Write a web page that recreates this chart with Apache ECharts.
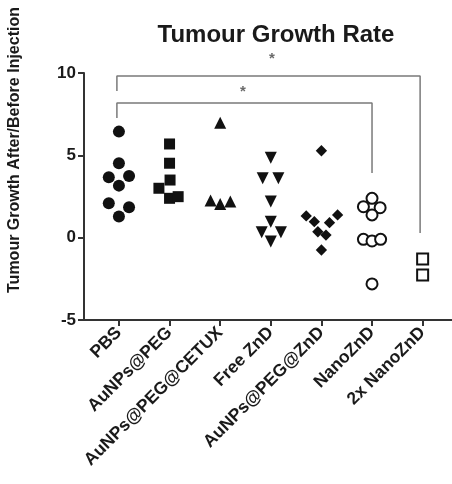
<!DOCTYPE html>
<html>
<head>
<meta charset="utf-8">
<script src="https://cdn.jsdelivr.net/npm/echarts@6/dist/echarts.min.js"></script>
<style>
  html, body { margin: 0; padding: 0; background: #fff; }
  #chart { width: 452px; height: 484px; }
</style>
</head>
<body>
<div id="chart"></div>
<script>
const categories = ['PBS', 'AuNPs@PEG', 'AuNPs@PEG@CETUX', 'Free ZnD', 'AuNPs@PEG@ZnD', 'NanoZnD', '2x NanoZnD'];

// values, with horizontal jitter positions (category index)
const pbsX = [0, 0, -0.2, 0.2, 0, -0.2, 0.2, 0];
const pbsY = [6.44, 4.52, 3.67, 3.75, 3.16, 2.09, 1.85, 1.28];
const pegX = [1, 1, 1.01, 0.79, 1, 1.17];
const pegY = [5.69, 4.52, 3.5, 3.0, 2.39, 2.49];
const cetuxX = [2, 1.81, 2, 2.2];
const cetuxY = [6.98, 2.25, 2.05, 2.19];
const freeX = [3, 2.84, 3.15, 3, 3, 2.82, 3.2, 3];
const freeY = [4.86, 3.61, 3.61, 2.19, 0.97, 0.33, 0.33, -0.24];
const pegZnX = [4.0, 3.7, 3.86, 4.16, 4.32, 3.93, 4.09, 4.0];
const pegZnY = [5.28, 1.32, 0.97, 0.91, 1.38, 0.36, 0.16, -0.75];
const nanoX = [5, 4.83, 5.16, 5, 4.83, 5, 5.17, 5];
const nanoY = [2.39, 1.88, 1.82, 1.38, -0.1, -0.2, -0.1, -2.81];
const nano2X = [6, 6];
const nano2Y = [-1.29, -2.26];

// significance brackets
const outerBracket = [[-0.04, 8.9], [-0.04, 9.82], [5.95, 9.82], [5.95, 0.29]];
const innerBracket = [[-0.04, 7.27], [-0.04, 8.18], [5.0, 8.18], [5.0, 3.93]];
const stars = [[3.02, 10.85], [2.45, 8.85]];

const font = 'Liberation Sans, Arial, sans-serif';
const ink = '#111';

const pts = (xs, ys) => xs.map((x, i) => [x, ys[i]]);

const dotSeries = (xs, ys, symbol, size, extra) => Object.assign({
  type: 'scatter',
  data: pts(xs, ys),
  symbol: symbol,
  symbolSize: size,
  itemStyle: { color: ink, opacity: 1 },
  silent: true,
  z: 3,
}, extra || {});

const openStyle = { color: '#fff', borderColor: ink, borderWidth: 2, opacity: 1 };

const bracket = (data) => ({
  type: 'line',
  data: data,
  symbol: 'none',
  lineStyle: { color: '#7a7a7a', width: 1.5 },
  clip: false,
  silent: true,
  z: 1,
});

const chart = echarts.init(document.getElementById('chart'));

chart.setOption({
  animation: false,
  title: {
    text: 'Tumour Growth Rate',
    left: 271,
    top: 18,
    textAlign: 'center',
    textStyle: { fontFamily: font, fontSize: 24, fontWeight: 'bold', color: '#1a1a1a' },
  },
  graphic: [{
    type: 'text',
    x: 15,
    y: 150,
    rotation: Math.PI / 2,
    style: {
      text: 'Tumour Growth After/Before Injection',
      font: 'bold 16px ' + font,
      fill: '#1a1a1a',
      align: 'center',
      verticalAlign: 'middle',
    },
  }],
  grid: { left: 84, top: 73, right: 0, bottom: 164 },
  xAxis: {
    type: 'value',
    min: -0.69,
    max: 6.58,
    splitLine: { show: false },
    axisLine: { onZero: false, lineStyle: { color: '#333', width: 2 } },
    axisTick: { customValues: [0, 1, 2, 3, 4, 5, 6], length: 6, lineStyle: { color: '#333', width: 2 } },
    axisLabel: {
      customValues: [0, 1, 2, 3, 4, 5, 6],
      formatter: (v) => categories[Math.round(v)],
      rotate: 45,
      margin: 10,
      fontFamily: font,
      fontSize: 17.5,
      fontWeight: 'bold',
      color: '#1a1a1a',
    },
  },
  yAxis: {
    type: 'value',
    min: -5,
    max: 10,
    interval: 5,
    splitLine: { show: false },
    axisLine: { show: true, onZero: false, lineStyle: { color: '#333', width: 2 } },
    axisTick: { show: true, length: 6, lineStyle: { color: '#333', width: 2 } },
    axisLabel: { margin: 8, fontFamily: font, fontSize: 17, fontWeight: 'bold', color: '#1a1a1a' },
  },
  series: [
    bracket(outerBracket),
    bracket(innerBracket),
    {
      type: 'scatter',
      data: stars,
      symbolSize: 0,
      clip: false,
      silent: true,
      label: {
        show: true,
        formatter: '*',
        position: 'inside',
        fontFamily: font,
        fontSize: 15,
        fontWeight: 'bold',
        color: '#444',
      },
    },
    dotSeries(pbsX, pbsY, 'circle', 12),
    dotSeries(pegX, pegY, 'rect', 11),
    dotSeries(cetuxX, cetuxY, 'triangle', 12),
    dotSeries(freeX, freeY, 'triangle', 12, { symbolRotate: 180 }),
    dotSeries(pegZnX, pegZnY, 'rect', 8, { symbolRotate: 45 }),
    dotSeries(nanoX, nanoY, 'circle', 11, { itemStyle: openStyle }),
    dotSeries(nano2X, nano2Y, 'rect', 11, { itemStyle: openStyle }),
  ],
});
</script>
</body>
</html>
